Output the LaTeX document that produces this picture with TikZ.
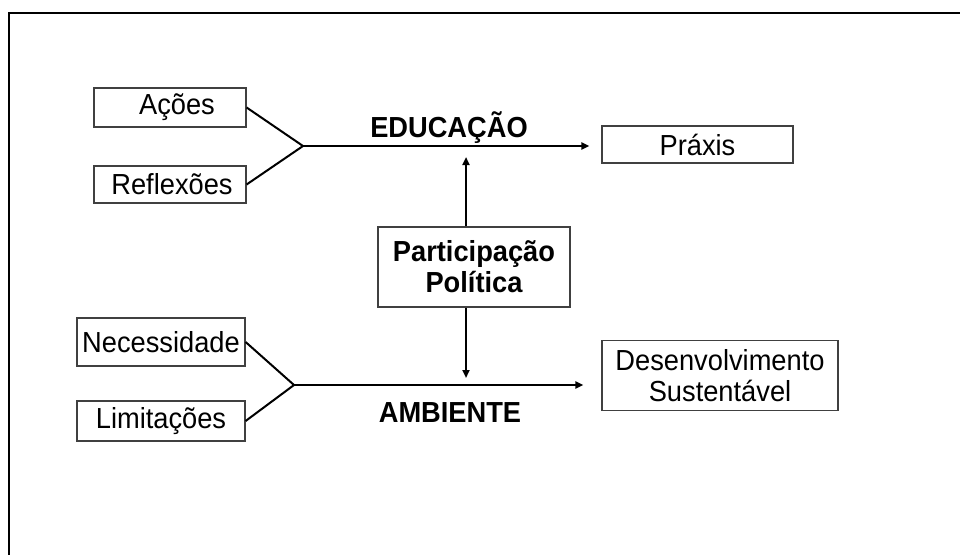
\documentclass[tikz,border=0pt]{standalone}
\usepackage{fontspec}
\setmainfont[FakeStretch=0.94]{Liberation Sans}
\usetikzlibrary{arrows.meta}
\begin{document}
\begin{tikzpicture}[x=1pt,y=-1pt,
  every node/.style={font=\fontsize{29}{31}\selectfont, inner sep=0pt},
  box/.style={draw=black!75, line width=1.2pt, fill=white, align=center},
  conn/.style={line width=2pt, draw=black},
  arr/.style={conn, -{Triangle[length=8pt,width=7pt]}},
  lbl/.style={font=\fontsize{29}{31}\selectfont\bfseries, anchor=base}]
\clip (0,0) rectangle (960,554);
\fill[white] (0,0) rectangle (960,554);
\draw[line width=2pt] (980,13) -- (9,13) -- (9,580);

\node[box, minimum width=152pt, minimum height=39pt] (acoes) at (170,107.5) {\hspace*{14pt}Ações};
\node[box, minimum width=152pt, minimum height=37pt] (reflex) at (170,184.5) {\hspace*{4pt}Reflexões};
\node[box, minimum width=191pt, minimum height=37pt] (praxis) at (697.5,144.5) {Práxis};
\node[box, minimum width=192pt, minimum height=80pt, font=\fontsize{29}{31}\selectfont\bfseries] (part) at (474,267) {Participação\\Política};
\node[box, minimum width=168pt, minimum height=48pt] (neces) at (161,342) {Necessidade};
\node[box, minimum width=168pt, minimum height=40pt] (limit) at (161,421) {Limitações};
\node[box, minimum width=236pt, minimum height=70pt] (desenv) at (720,375.5) {Desenvolvimento\\Sustentável};

\coordinate (j1) at (303,146);
\coordinate (j2) at (294,385);

\draw[conn] (acoes.east) -- (j1) -- (reflex.east);
\draw[conn] (neces.east) -- (j2) -- (limit.east);
\draw[arr, shorten >=12pt] (j1) -- (praxis.west |- j1);
\draw[arr, shorten >=18pt] (j2) -- (desenv.west |- j2);
\draw[arr, shorten >=11pt] ([xshift=-8pt]part.north) -- ([xshift=-8pt]part.north |- j1);
\draw[arr, shorten >=7pt] ([xshift=-8pt]part.south) -- ([xshift=-8pt]part.south |- j2);

\node[lbl] (edu) at (449,137) {EDUCAÇÃO};
\node[lbl] (amb) at (450,422) {AMBIENTE};
\end{tikzpicture}
\end{document}
